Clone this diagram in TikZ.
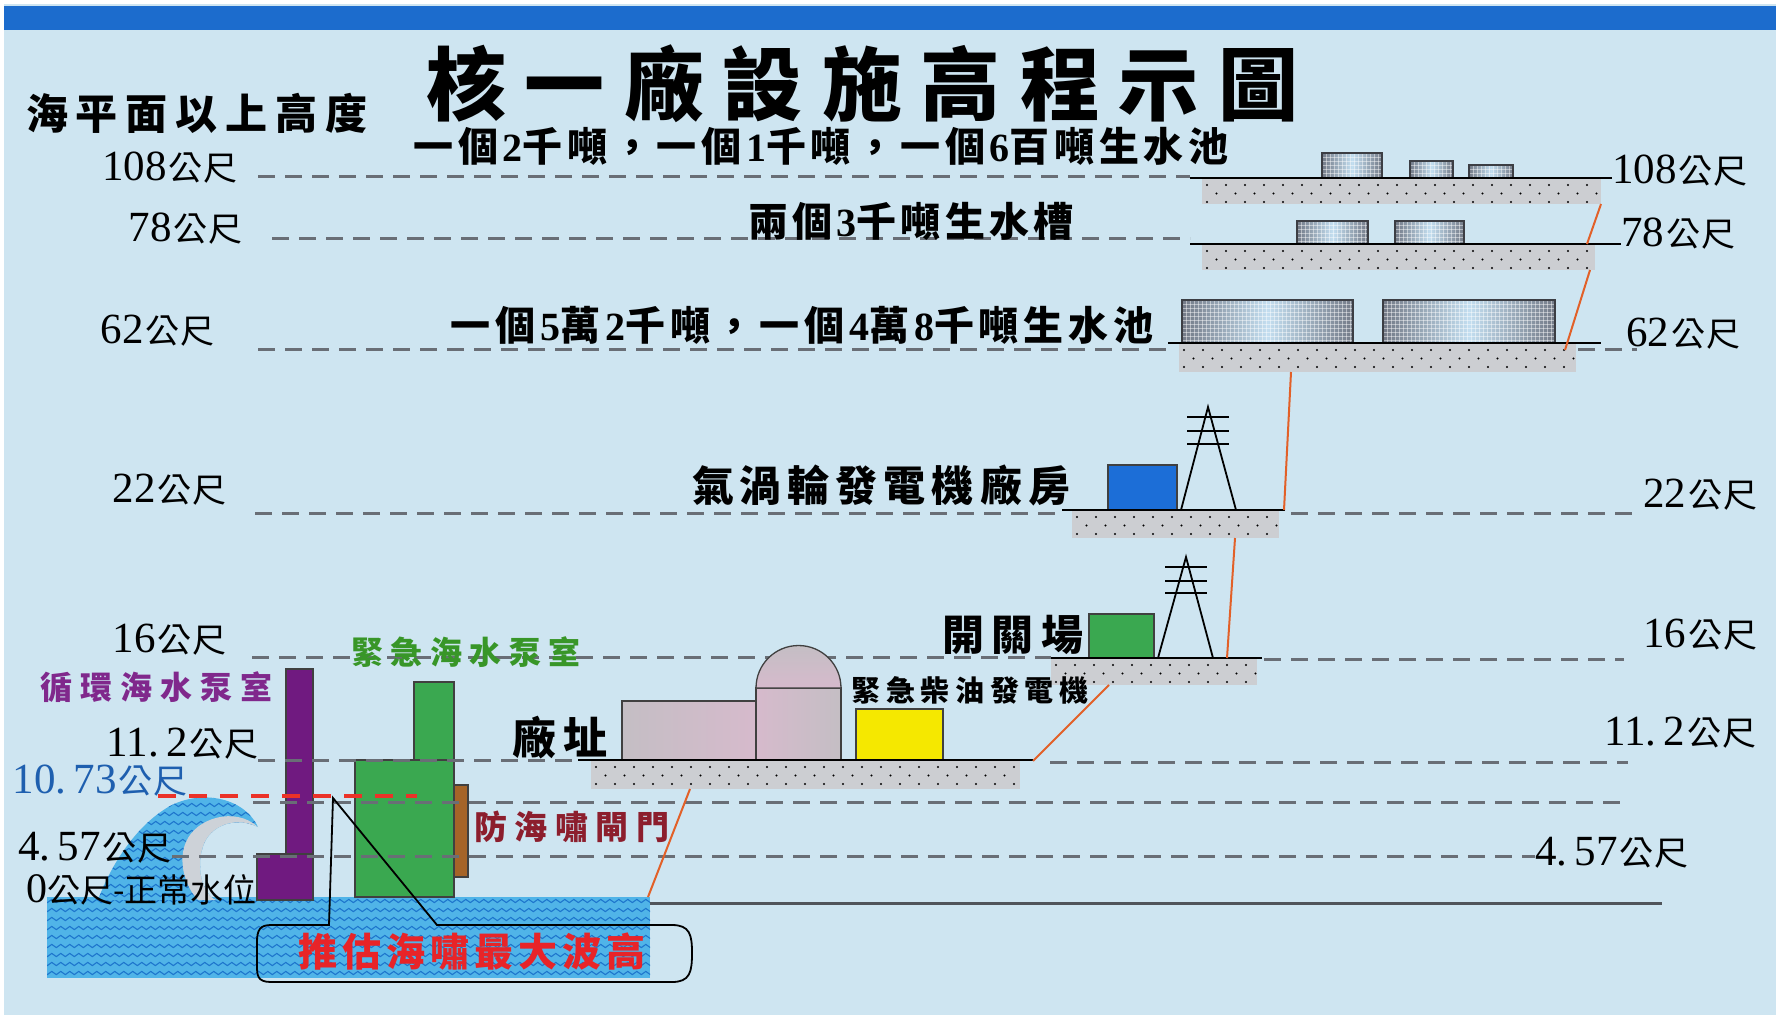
\documentclass[tikz,border=0pt]{standalone}
\usepackage{fontspec}
\setmainfont{Noto Sans CJK TC}
\newfontfamily\numfont{Liberation Serif}
\usetikzlibrary{decorations.pathmorphing}

\definecolor{bg}{RGB}{206,229,241}
\definecolor{bar}{RGB}{28,108,205}
\definecolor{dashgray}{RGB}{105,110,118}
\definecolor{plat}{RGB}{204,206,210}
\definecolor{linkorange}{RGB}{226,96,40}
\definecolor{purp}{RGB}{112,26,128}
\definecolor{purptxt}{RGB}{128,40,140}
\definecolor{grn}{RGB}{58,168,80}
\definecolor{grntxt}{RGB}{56,150,40}
\definecolor{gtblue}{RGB}{28,110,215}
\definecolor{ylw}{RGB}{245,232,0}
\definecolor{gate}{RGB}{165,100,40}
\definecolor{gatetxt}{RGB}{140,30,45}
\definecolor{redtxt}{RGB}{232,36,40}
\definecolor{redline}{RGB}{235,50,40}
\definecolor{blvl}{RGB}{30,95,175}
\definecolor{sea}{RGB}{80,180,232}
\definecolor{seaw}{RGB}{30,118,205}
\definecolor{foam}{RGB}{205,210,216}
\definecolor{tankdark}{RGB}{115,122,135}
\definecolor{tanklight}{RGB}{195,222,240}
\definecolor{tankedge}{RGB}{60,62,68}
\definecolor{bldgA}{RGB}{196,190,196}
\definecolor{bldgB}{RGB}{214,186,204}
\definecolor{sealine}{RGB}{80,84,90}

% letter-spaced text: a gap after every CJK glyph, ASCII set in the serif face
\makeatletter
\newcommand\spr[2]{\def\spr@gap{#1}\spr@loop#2\spr@end}
\def\spr@end{\spr@end}
\def\spr@loop#1{\ifx#1\spr@end\unskip\else\ifnum`#1<128 {\numfont#1}\else#1\hskip\spr@gap\relax\fi\expandafter\spr@loop\fi}
\makeatother

% height label: large serif number + 公尺
\newcommand\mm[1]{{\numfont\fontsize{43}{43}\selectfont #1}\hskip2pt 公\hskip1pt 尺}

% dotted ground slab
\newcommand\platform[5]{%
  \fill[plat] (#2,#3) rectangle (#4,#5);
  \coordinate (#1-nw) at (#2,#3);
  \coordinate (#1-se) at (#4,#5);
  \begin{scope}
    \clip (#2,#3) rectangle (#4,#5);
    \foreach \r in {0,1,2}{
      \foreach \c in {0,...,22}{
        \fill[black] ({#2+5+19*\c+9.5*mod(\r,2)},{#3+6+8.5*\r}) circle[radius=1.2pt];
      }
    }
  \end{scope}}

% water tank with gridded metallic face
\newcommand\tank[4]{%
  \shade[left color=tankdark, right color=tankdark, middle color=tanklight] (#1,#2) rectangle (#3,#4);
  \begin{scope}
    \clip (#1,#2) rectangle (#3,#4);
    \foreach \gx in {0,4,...,200} \draw[white, opacity=.45, line width=.5pt] ({#1+\gx},#2) -- ({#1+\gx},#4);
    \foreach \gy in {0,4,...,60} \draw[white, opacity=.45, line width=.5pt] (#1,{#2+\gy}) -- (#3,{#2+\gy});
  \end{scope}
  \draw[tankedge, line width=1.8pt] (#1,#4) -- (#1,#2) -- (#3,#2) -- (#3,#4);}

% transmission tower: apex x, apex y, base y, left foot x, right foot x, cross-arm heights
\newcommand\tower[6]{%
  \draw[line width=1.8pt] (#4,#3) -- (#1,#2) -- (#5,#3);
  \foreach \cy in {#6} \draw[line width=1.8pt] ({#1-21},\cy) -- ({#1+21},\cy);}

\tikzset{
  lvl/.style={draw=dashgray, line width=3pt, dash pattern=on 17pt off 10pt},
  ground/.style={draw=black, line width=2.2pt},
  link/.style={draw=linkorange, line width=2pt},
  txt/.style={inner sep=0pt, font=\bfseries},
  lab/.style={inner sep=0pt, text height=26pt, text depth=1pt, font=\fontsize{34}{38}\selectfont},
  wavy/.style={draw=seaw, line width=1.1pt, decorate, decoration={snake, amplitude=1.6pt, segment length=9pt}},
  block/.style={draw=black!75, line width=1.3pt},
}

\begin{document}
\begin{tikzpicture}[x=1pt,y=-1pt]
\useasboundingbox (0,0) rectangle (1776,1015);
\fill[white] (0,0) rectangle (1776,1015);
\fill[bg] (4,4) rectangle (1776,1015);
\fill[bar] (4,6) rectangle (1776,30);

% ---- sea and breaking wave
\begin{scope}
  \clip (47,897) rectangle (650,978);
  \fill[sea] (47,897) rectangle (650,978);
  \foreach \yy in {901,910,...,978} \draw[wavy] (40,\yy) -- (660,\yy);
\end{scope}
\begin{scope}
  \clip (98,900) .. controls (112,862) and (138,824) .. (170,806)
        .. controls (200,790) and (243,796) .. (258,827)
        .. controls (240,818) and (218,822) .. (207,838)
        .. controls (198,852) and (198,875) .. (205,888)
        .. controls (208,894) and (211,898) .. (216,900) -- cycle;
  \fill[sea] (90,790) rectangle (265,902);
  \foreach \yy in {796,805,...,900} \draw[wavy] (90,\yy) -- (270,\yy);
\end{scope}
\fill[foam] (258,827) .. controls (240,818) and (218,822) .. (207,838)
        .. controls (198,852) and (198,875) .. (205,888)
        .. controls (208,894) and (211,898) .. (216,900) -- (198,900)
        .. controls (184,885) and (178,860) .. (186,842)
        .. controls (196,818) and (235,806) .. (258,827) -- cycle;

% ---- pump houses and tsunami gate
\fill[purp, block] (286,669) rectangle (313,900);
\fill[purp, block] (257,854) rectangle (313,900);
\fill[purp] (288,856) rectangle (311,898);
\fill[grn, block] (414,682) rectangle (454,760);
\fill[grn, block] (355,760) rectangle (454,897);
\fill[gate, block] (454,785) rectangle (468,877);

% ---- elevation reference lines
\draw[lvl] (258,176) -- (1190,176);
\draw[lvl] (272,238) -- (1190,238);
\draw[lvl] (258,349) -- (1168,349);  \draw[lvl] (1578,349) -- (1637,349);
\draw[lvl] (255,513) -- (1062,513);  \draw[lvl] (1291,513) -- (1637,513);
\draw[lvl] (252,657) -- (1051,657);  \draw[lvl] (1264,659) -- (1624,659);
\draw[lvl] (258,760) -- (578,760);   \draw[lvl] (1050,762) -- (1628,762);
\draw[lvl] (253,802) -- (1624,802);
\draw[lvl] (172,856) -- (1535,856);
\draw[draw=sealine, line width=3pt] (650,903) -- (1662,903);

% ---- slabs
\platform{p108}{1202}{179}{1601}{204}
\platform{p78}{1202}{245}{1595}{270}
\platform{p62}{1179}{344}{1576}{372}
\platform{p22}{1072}{511}{1279}{538}
\platform{p16}{1051}{659}{1257}{685}
\platform{ps}{591}{761}{1020}{789}

% ---- plant site
\shade[left color=bldgA, right color=bldgB, block] (622,701) rectangle (756,760);
\shade[left color=bldgB, right color=bldgA, block] (756,688) rectangle (841,760);
\shade[top color=bldgA, bottom color=bldgB, block] (756,688) .. controls (756,664.5) and (775,645.5) .. (798.5,645.5)
      .. controls (822,645.5) and (841,664.5) .. (841,688) -- cycle;
\fill[ylw, block] (856,709) rectangle (943,760);

% ---- switchyard and gas turbine building
\fill[grn, block] (1089,614) rectangle (1154,658);
\tower{1186}{557}{658}{1158}{1213}{567,581,593}
\fill[gtblue, block] (1108,465) rectangle (1177,510);
\tower{1208}{407}{510}{1181}{1236}{417,431,444}

% ---- raw water tanks
\tank{1182}{300}{1353}{343}
\tank{1383}{300}{1555}{343}
\tank{1297}{221}{1368}{244}
\tank{1395}{221}{1464}{244}
\tank{1322}{153}{1382}{178}
\tank{1410}{161}{1453}{178}
\tank{1469}{165}{1513}{178}

% ---- ground lines
\draw[ground] (1190,178) -- (1612,178);
\draw[ground] (1190,244) -- (1621,244);
\draw[ground] (1168,343) -- (1601,343);
\draw[ground] (1062,510) -- (1285,510);
\draw[ground] (1051,658) -- (1262,658);
\draw[ground] (578,760) -- (1033,760);

% ---- slope connectors between levels
\coordinate (seaE) at (648,897);   \coordinate (siteB) at (690,789);
\coordinate (siteE) at (1033,761); \coordinate (p16B) at (1109,685);
\coordinate (p16T) at (1227,658);  \coordinate (p22B) at (1235,538);
\coordinate (p22T) at (1284,510);  \coordinate (p62B) at (1291,372);
\coordinate (p62T) at (1565,350);  \coordinate (p78B) at (1590,270);
\coordinate (p78T) at (1587,244);  \coordinate (p108B) at (1601,204);
\draw[link] (seaE) -- (siteB);
\draw[link] (siteE) -- (p16B);
\draw[link] (p16T) -- (p22B);
\draw[link] (p22T) -- (p62B);
\draw[link] (p62T) -- (p78B);
\draw[link] (p78T) -- (p108B);

% ---- estimated maximum tsunami height
\draw[redline, line width=4pt, dash pattern=on 18pt off 13pt] (158,796) -- (417,796);
\coordinate (tip) at (333,798);
\draw[black, line width=1.8pt] (tip) -- (437,925) -- (672,925)
   .. controls (690,925) and (692,935) .. (692,953)
   .. controls (692,972) and (690,982) .. (672,982) -- (271,982)
   .. controls (257,982) and (257,975) .. (257,965) -- (257,942)
   .. controls (257,930) and (260,925) .. (271,925) -- (329,925) -- cycle;

% ---- titles and captions
\node[txt, font=\fontsize{80}{86}\selectfont\bfseries] (title) at (862,84) {\spr{19pt}{核一廠設施高程示圖}};
\node[txt, font=\fontsize{42}{46}\selectfont\bfseries] (axis) at (197,113) {\spr{8pt}{海平面以上高度}};
\node[txt, font=\fontsize{40}{44}\selectfont\bfseries] (c108) at (821,146) {\spr{4.7pt}{一個2千噸，一個1千噸，一個6百噸生水池}};
\node[txt, font=\fontsize{40}{44}\selectfont\bfseries] (c78) at (911,221) {\spr{4.3pt}{兩個3千噸生水槽}};
\node[txt, font=\fontsize{40}{44}\selectfont\bfseries] (c62) at (802,325) {\spr{4.8pt}{一個5萬2千噸，一個4萬8千噸生水池}};
\node[txt, font=\fontsize{42}{46}\selectfont\bfseries] (c22) at (881,485) {\spr{6pt}{氣渦輪發電機廠房}};
\node[txt, font=\fontsize{42}{46}\selectfont\bfseries] (c16) at (1013,635) {\spr{8pt}{開關場}};
\node[txt, font=\fontsize{29}{32}\selectfont\bfseries] (edg) at (970,690) {\spr{5.7pt}{緊急柴油發電機}};
\node[txt, font=\fontsize{44}{48}\selectfont\bfseries] (site) at (560,738) {\spr{7pt}{廠址}};
\node[txt, font=\fontsize{32}{36}\selectfont\bfseries, text=grntxt] (esw) at (466,652) {\spr{7.4pt}{緊急海水泵室}};
\node[txt, font=\fontsize{32}{36}\selectfont\bfseries, text=purptxt] (csw) at (156,687) {\spr{8pt}{循環海水泵室}};
\node[txt, font=\fontsize{33}{36}\selectfont\bfseries, text=gatetxt] (gatel) at (572,827) {\spr{7.5pt}{防海嘯閘門}};
\node[txt, font=\fontsize{39}{42}\selectfont\bfseries, text=redtxt] (tsu) at (472,952) {\spr{5pt}{推估海嘯最大波高}};

% ---- height labels, left
\node[lab, anchor=east] (l108) at (238,168) {\mm{108}};
\node[lab, anchor=east] (l78)  at (243,229) {\mm{78}};
\node[lab, anchor=east] (l62)  at (215,331) {\mm{62}};
\node[lab, anchor=east] (l22)  at (227,490) {\mm{22}};
\node[lab, anchor=east] (l16)  at (227,640) {\mm{16}};
\node[lab, anchor=east] (l11)  at (259,744) {\mm{11.\,2}};
\node[lab, anchor=east, text=blvl] (l10) at (188,781) {\mm{10.\,73}};
\node[lab, anchor=east] (l4)   at (172,848) {\mm{4.\,57}};
\node[lab, anchor=east, font=\fontsize{33}{36}\selectfont] (l0) at (257,890) {{\numfont\fontsize{42}{42}\selectfont 0}公尺-正常水位};

% ---- height labels, right
\node[lab, anchor=west] (r108) at (1612,171) {\mm{108}};
\node[lab, anchor=west] (r78)  at (1621,234) {\mm{78}};
\node[lab, anchor=west] (r62)  at (1626,334) {\mm{62}};
\node[lab, anchor=west] (r22)  at (1643,495) {\mm{22}};
\node[lab, anchor=west] (r16)  at (1643,635) {\mm{16}};
\node[lab, anchor=west] (r11)  at (1604,733) {\mm{11.\,2}};
\node[lab, anchor=west] (r4)   at (1535,853) {\mm{4.\,57}};
\end{tikzpicture}
\end{document}
